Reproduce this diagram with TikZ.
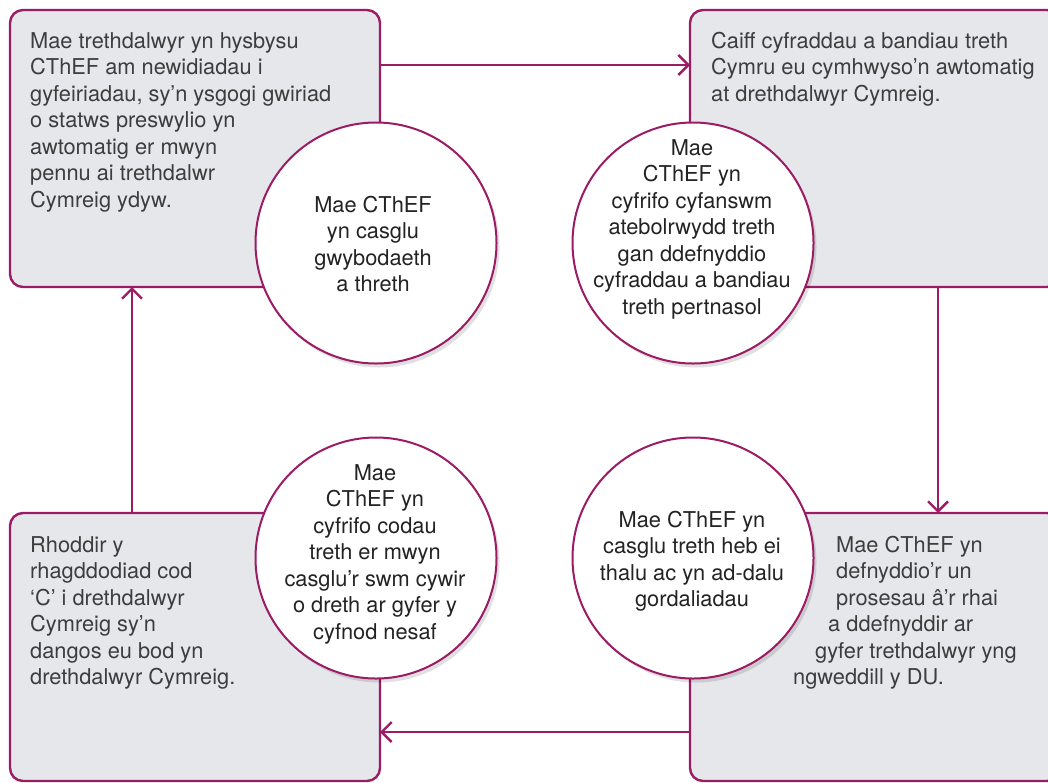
\documentclass[tikz,border=0pt]{standalone}
\usepackage{fontspec}
\setmainfont{TeX Gyre Heros}
\usetikzlibrary{arrows.meta,shadows}
\definecolor{plum}{HTML}{9B1B65}
\definecolor{boxgray}{HTML}{E6E7EB}
\definecolor{boxtext}{HTML}{3D3D3D}
\definecolor{circtext}{HTML}{232323}
\tikzset{
  stagebox/.style={draw=plum, line width=2.4pt, fill=boxgray, rounded corners=13pt,
    rectangle, inner sep=0pt, outer sep=0pt, minimum width=370pt},
  stagetext/.style={anchor=north west, inner sep=0pt, align=left, text=boxtext,
    font=\fontsize{21.8}{26.5}\selectfont},
  bubble/.style={circle, draw=plum, line width=2pt, fill=white, minimum size=241pt,
    inner sep=0pt, outer sep=0pt,
    drop shadow={shadow xshift=3pt, shadow yshift=-4pt, opacity=0.12, fill=black}},
  bubbletext/.style={anchor=north, inner sep=0pt, align=center, text=circtext,
    font=\fontsize{21.8}{26.5}\selectfont},
  flow/.style={draw=plum, line width=2.4pt, -{Straight Barb[length=10pt,width=20pt,line width=2.4pt]}},
}
\begin{document}
\begin{tikzpicture}[x=1pt,y=-1pt]
\useasboundingbox (0,0) rectangle (1048,782);
\clip (0,0) rectangle (1048,782);
\fill[white] (0,0) rectangle (1048,782);
% boxes
\node[stagebox, minimum height=277pt] (tl) at (195,148.5) {};
\node[stagebox, minimum height=277pt] (tr) at (875,148.5) {};
\node[stagebox, minimum height=268pt] (bl) at (195,647) {};
\node[stagebox, minimum height=268pt] (br) at (875,647) {};
% box texts
\node[stagetext] (tlt) at (30,32) {Mae trethdalwyr yn hysbysu\\CThEF am newidiadau i\\gyfeiriadau, sy’n ysgogi gwiriad\\o statws preswylio yn\\awtomatig er mwyn\\pennu ai trethdalwr\\Cymreig ydyw.};
\node[stagetext] (trt) at (711,32) {Caiff cyfraddau a bandiau treth\\Cymru eu cymhwyso’n awtomatig\\at drethdalwyr Cymreig.};
\node[stagetext] (blt) at (30,536) {Rhoddir y\\rhagddodiad cod\\‘C’ i drethdalwyr\\Cymreig sy’n\\dangos eu bod yn\\drethdalwyr Cymreig.};
\node[stagetext] (brt) at (793,536) {\hspace*{43pt}Mae CThEF yn\\\hspace*{43pt}defnyddio’r un\\\hspace*{43pt}prosesau â’r rhai\\\hspace*{35pt}a ddefnyddir ar\\\hspace*{22pt}gyfer trethdalwyr yng\\ngweddill y DU.};
% connectors
\coordinate (ytop) at (0,65);
\coordinate (ybot) at (0,732);
\coordinate (xright) at (938,0);
\coordinate (xleft) at (132,0);
\draw[flow] (tl.east |- ytop) -- (tr.west |- ytop);
\draw[flow] (tr.south -| xright) -- (br.north -| xright);
\draw[flow] (br.west |- ybot) -- (bl.east |- ybot);
\draw[flow] (bl.north -| xleft) -- (tl.south -| xleft);
% circles
\node[bubble] (c1) at (376,243) {};
\node[bubble] (c2) at (693,243) {};
\node[bubble] (c3) at (376,558) {};
\node[bubble] (c4) at (693,558) {};
\node[bubbletext] (c1t) at (373,196) {Mae CThEF\\yn casglu\\gwybodaeth\\a threth};
\node[bubbletext] (c2t) at (692,139) {Mae\\CThEF yn\\cyfrifo cyfanswm\\atebolrwydd treth\\gan ddefnyddio\\cyfraddau a bandiau\\treth pertnasol};
\node[bubbletext] (c3t) at (375,464) {Mae\\CThEF yn\\cyfrifo codau\\treth er mwyn\\casglu’r swm cywir\\o dreth ar gyfer y\\cyfnod nesaf};
\node[bubbletext] (c4t) at (692,511) {Mae CThEF yn\\casglu treth heb ei\\thalu ac yn ad-dalu\\gordaliadau};
\end{tikzpicture}
\end{document}
